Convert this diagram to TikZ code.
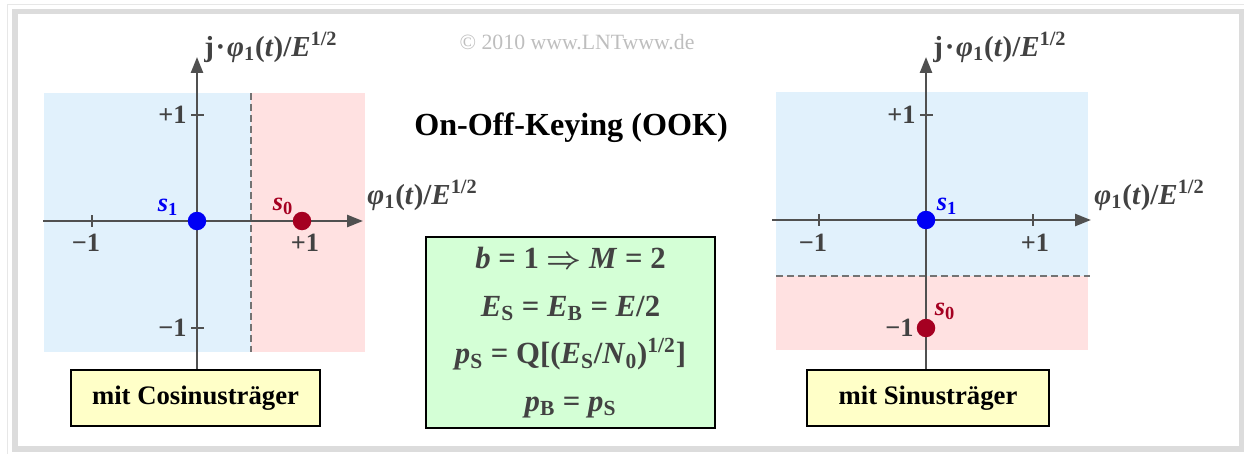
\documentclass[tikz,border=0pt]{standalone}
\usepackage{fontspec}
\setmainfont{Liberation Serif}
\usetikzlibrary{arrows.meta, positioning}
\definecolor{axisgrey}{HTML}{505050}
\definecolor{labgrey}{HTML}{424242}
\definecolor{regblue}{HTML}{E1F1FC}
\definecolor{regred}{HTML}{FFE1E1}
\definecolor{dotblue}{HTML}{0000F5}
\definecolor{dotred}{HTML}{A50021}
\definecolor{boxyellow}{HTML}{FFFFC8}
\definecolor{boxgreen}{HTML}{D4FFD6}
\definecolor{framegrey}{HTML}{DCDCDC}
\definecolor{copygrey}{HTML}{BEBEBE}
\newcommand{\philab}{\textit{φ}\textsubscript{1}(\textit{t})/\textit{E}\textsuperscript{1/2}}
\tikzset{
  axis/.style={draw=axisgrey, line width=0.05cm, -{Triangle[length=0.32cm,width=0.24cm]}},
  tickmark/.style={draw=axisgrey, line width=0.035cm},
  border/.style={draw=axisgrey!80, line width=0.025cm, dash pattern=on 0.14cm off 0.08cm},
  sig/.style={circle, minimum size=0.37cm, inner sep=0pt},
  num/.style={font=\fontsize{15}{17}\selectfont\bfseries, text=labgrey, inner sep=0pt},
  axlabel/.style={font=\fontsize{16.5}{19}\selectfont\bfseries, text=labgrey, inner sep=0pt},
  siglabel/.style={font=\fontsize{15}{17}\selectfont\bfseries, inner sep=0pt},
  carrier/.style={draw=black, line width=0.035cm, fill=boxyellow, minimum height=1.12cm,
    inner sep=0pt, font=\fontsize{15.2}{17}\selectfont\bfseries}
}
\begin{document}
\begin{tikzpicture}[x=0.02cm, y=-0.02cm]
  \useasboundingbox (0,0) rectangle (1244,453);
  % frame
  \draw[framegrey!70, line width=0.02cm] (7,4) rectangle (1250,460);
  \draw[framegrey, line width=0.12cm] (15,11.5) rectangle (1242,449);

  % ===== left: cosine carrier =====
  \fill[regblue] (44,93) rectangle (251,352);
  \fill[regred] (251,93) rectangle (365,352);
  \draw[border] (251,93) -- (251,352);
  \node[carrier, minimum width=4.98cm] (cbox) at (195.5,398) {mit Cosinusträger};
  \coordinate (lorig) at (197,221);
  \coordinate (ltop) at (197,57);
  \coordinate (lleft) at (43,221);
  \coordinate (lright) at (363,221);
  \draw[axis] (cbox.north -| ltop) -- (ltop);
  \draw[axis] (lleft) -- (lright);
  \draw[tickmark] (92,215) -- (92,227);
  \foreach \y in {115,328}{
    \draw[tickmark] (191,\y) -- (204,\y);
  }
  \node[num, anchor=east] at (187,115) {+1};
  \node[num, anchor=east] at (187,328) {−1};
  \node[num] at (86,243) {−1};
  \node[num] at (305,243) {+1};
  \node[sig, fill=dotblue] (ls1) at (lorig) {};
  \node[sig, fill=dotred] (ls0) at (302,221) {};
  \node[siglabel, text=dotblue] at (168,207) {\textit{s}\textsubscript{1}};
  \node[siglabel, text=dotred] at (283,206) {\textit{s}\textsubscript{0}};
  \node[axlabel, anchor=west] at (204,47) {j\kern1pt·\kern1pt\philab};
  \node[axlabel, anchor=west] at (367,195) {\philab};

  % ===== middle =====
  \node[font=\fontsize{12.4}{14}\selectfont, text=copygrey] (copy) at (577,42) {© 2010 www.LNTwww.de};
  \node[font=\fontsize{18.3}{21}\selectfont\bfseries] (title) at (571,128) {On-Off-Keying (OOK)};
  \node[draw=black, line width=0.035cm, fill=boxgreen, minimum width=5.78cm, minimum height=3.82cm,
        align=center, text=labgrey, font=\fontsize{17.5}{27}\selectfont\bfseries] (formula) at (570.5,332.5)
       {\textit{b} = 1 {\boldmath$\Rightarrow$}\ \textit{M} = 2\\
        \textit{E}\textsubscript{S} = \textit{E}\textsubscript{B} = \textit{E}/2\\
        \textit{p}\textsubscript{S} = Q[(\textit{E}\textsubscript{S}/\textit{N}\textsubscript{0})\textsuperscript{1/2}]\\
        \textit{p}\textsubscript{B} = \textit{p}\textsubscript{S}};

  % ===== right: sine carrier =====
  \fill[regblue] (776,92) rectangle (1088,276);
  \fill[regred] (776,276) rectangle (1088,350);
  \draw[border] (776,276) -- (1090,276);
  \node[carrier, minimum width=4.84cm] (sbox) at (928,398) {mit Sinusträger};
  \coordinate (rorig) at (926,220);
  \coordinate (rtop) at (926,57);
  \coordinate (rleft) at (772,220);
  \coordinate (rright) at (1091,220);
  \draw[axis] (sbox.north -| rtop) -- (rtop);
  \draw[axis] (rleft) -- (rright);
  \foreach \x in {819,1033}{
    \draw[tickmark] (\x,214) -- (\x,226);
  }
  \draw[tickmark] (920,115) -- (933,115);
  \node[num, anchor=east] at (916,115) {+1};
  \node[num, anchor=east] at (914,328) {−1};
  \node[num] at (813,243) {−1};
  \node[num] at (1035,243) {+1};
  \node[sig, fill=dotblue] (rs1) at (rorig) {};
  \node[sig, fill=dotred] (rs0) at (926,328) {};
  \node[siglabel, text=dotblue] at (947,206) {\textit{s}\textsubscript{1}};
  \node[siglabel, text=dotred] at (945,311) {\textit{s}\textsubscript{0}};
  \node[axlabel, anchor=west] at (933,47) {j\kern1pt·\kern1pt\philab};
  \node[axlabel, anchor=west] at (1094,195) {\philab};
\end{tikzpicture}
\end{document}
